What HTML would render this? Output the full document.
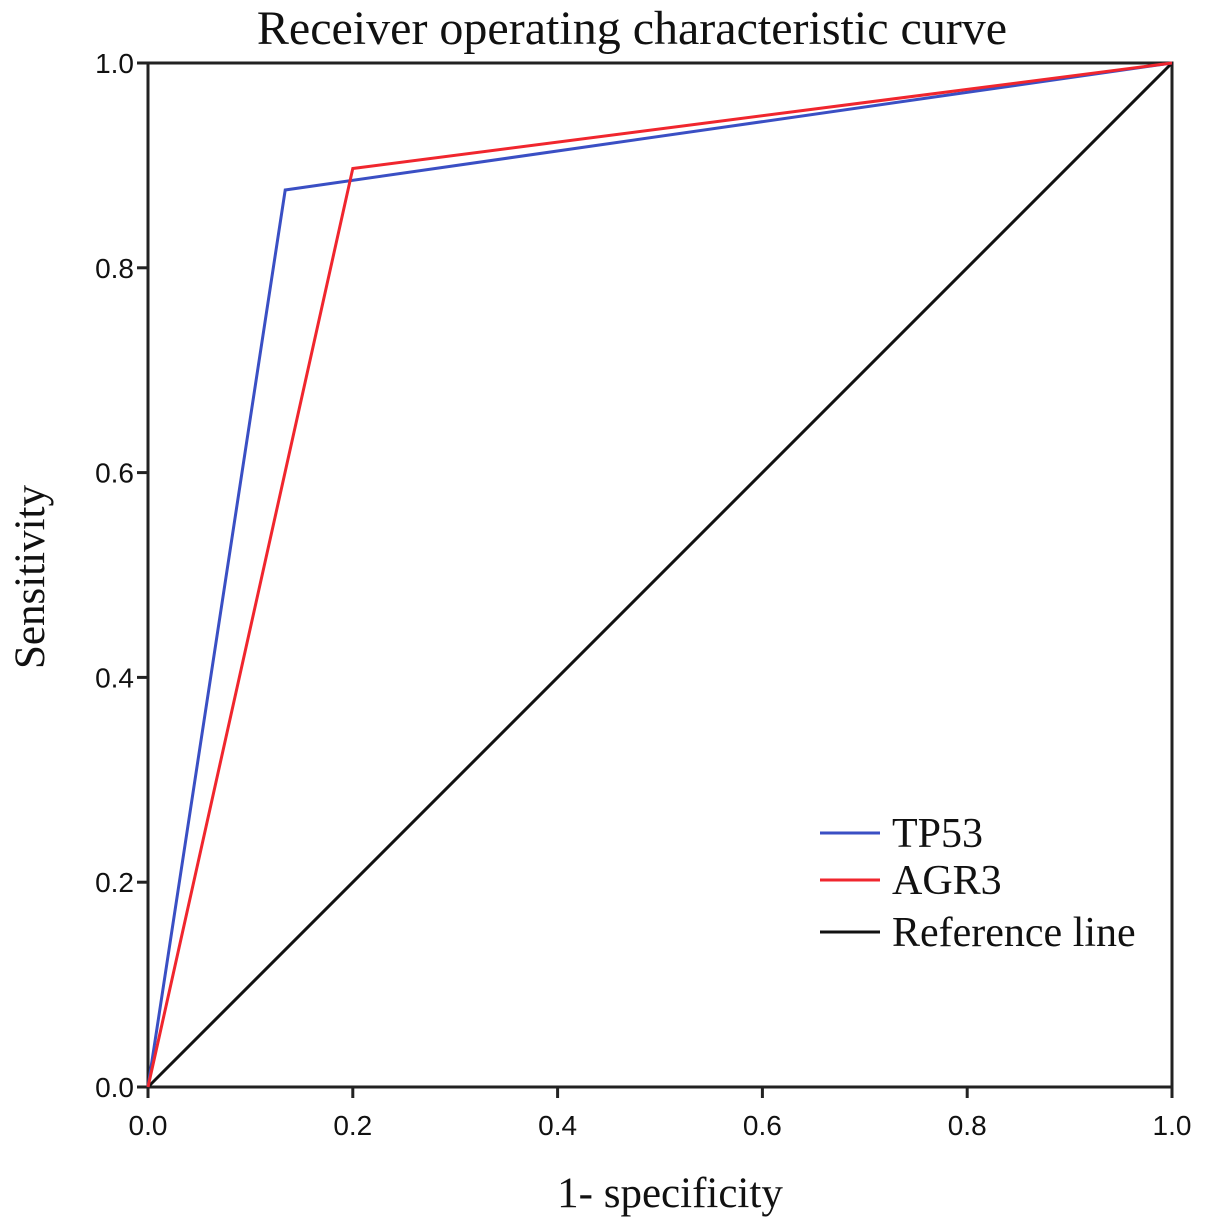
<!DOCTYPE html>
<html><head><meta charset="utf-8"><style>
body{margin:0;background:#fff;width:1205px;height:1227px;overflow:hidden}
svg text{fill:#111}
</style></head><body>
<svg width="1205" height="1227" xmlns="http://www.w3.org/2000/svg">
<text x="632" y="44" text-anchor="middle" font-family="Liberation Serif, serif" font-size="48">Receiver operating characteristic curve</text>
<text x="670" y="1207" text-anchor="middle" font-family="Liberation Serif, serif" font-size="43">1- specificity</text>
<text transform="translate(44,577) rotate(-90)" text-anchor="middle" font-family="Liberation Serif, serif" font-size="43">Sensitivity</text>
<g id="axes"></g>
<g id="series"></g>
<g id="legend"></g>
</svg>
<script>
const ticks=[0,0.2,0.4,0.6,0.8,1.0];
const tickLabels=["0.0","0.2","0.4","0.6","0.8","1.0"];
const seriesNames=["TP53","AGR3","Reference line"];
const seriesColors=["#3a4fc4","#f0262e","#111111"];
const tp53X=[0,0.134,1];
const tp53Y=[0,0.876,1];
const agr3X=[0,0.200,1];
const agr3Y=[0,0.897,1];
const refX=[0,1];
const refY=[0,1];
const NS="http://www.w3.org/2000/svg";
const X0=148,X1=1172,Y0=1087,Y1=63;
const sx=v=>X0+v*(X1-X0), sy=v=>Y0-v*(Y0-Y1);
function mk(t,a,p){const e=document.createElementNS(NS,t);for(const k in a)e.setAttribute(k,a[k]);p.appendChild(e);return e;}
const axes=document.getElementById('axes');
const frame=mk('rect',{x:X0,y:Y1,width:X1-X0,height:Y0-Y1,fill:'none',stroke:'#222','stroke-width':3},axes);


ticks.forEach((t,i)=>{
  const a=mk('line',{x1:sx(t),x2:sx(t),y1:Y0,y2:Y0+11,stroke:'#222','stroke-width':3},axes);
  
  
  const b=mk('text',{x:sx(t),y:Y0+48,'text-anchor':'middle','font-family':'Liberation Sans, sans-serif','font-size':28},axes);
  b.textContent=tickLabels[i];
  
  
  const c=mk('line',{x1:X0-11,x2:X0,y1:sy(t),y2:sy(t),stroke:'#222','stroke-width':3},axes);
  
  
  const d=mk('text',{x:X0-14,y:sy(t)+10,'text-anchor':'end','font-family':'Liberation Sans, sans-serif','font-size':28},axes);
  d.textContent=tickLabels[i];
  
  
});
const ser=document.getElementById('series');
[[refX,refY],[tp53X,tp53Y],[agr3X,agr3Y]].forEach((s,k)=>{
  const idx=[2,0,1][k];
  const pts=s[0].map((x,i)=>sx(x)+','+sy(s[1][i])).join(' ');
  const p=mk('polyline',{points:pts,fill:'none',stroke:seriesColors[idx],'stroke-width':3},ser);
  
  
});
const lg=document.getElementById('legend');
const ly=[833,880,932];
seriesNames.forEach((n,i)=>{
  const l=mk('line',{x1:820,x2:880,y1:ly[i],y2:ly[i],stroke:seriesColors[i],'stroke-width':3},lg);
  
  
  const t=mk('text',{x:892,y:ly[i]+14,'font-family':'Liberation Serif, serif','font-size':42},lg);
  t.textContent=n;
  
  
});
</script>
</body></html>
